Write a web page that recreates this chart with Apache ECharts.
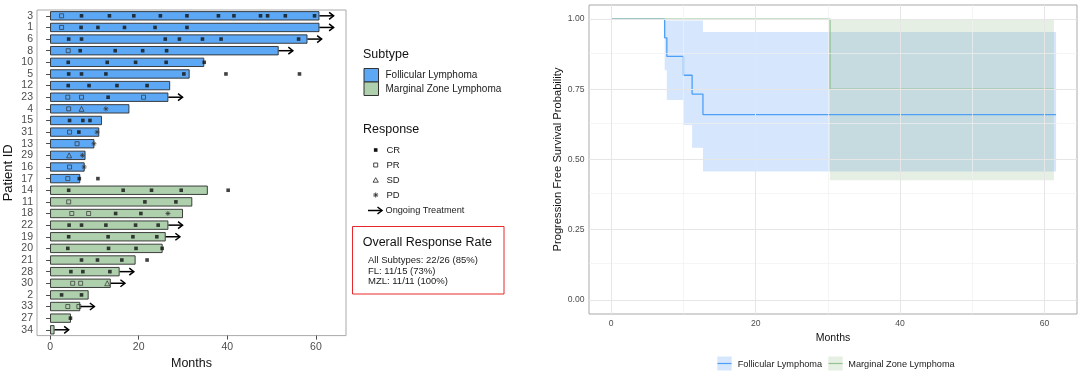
<!DOCTYPE html>
<html><head><meta charset="utf-8">
<script src="https://cdn.jsdelivr.net/npm/echarts@6/dist/echarts.min.js"></script>
<style>html,body{margin:0;padding:0;background:#fff}#c{width:1080px;height:383px}</style>
</head><body><div id="c"></div>
<script>
// ---------- Swimmer plot data ----------
const patients = ['3','1','6','8','10','5','12','23','4','15','31','13','29','16','17',
                  '14','11','18','22','19','20','21','28','30','2','33','27','34'];
const subtypes = ['FL','FL','FL','FL','FL','FL','FL','FL','FL','FL','FL','FL','FL','FL','FL',
                  'MZL','MZL','MZL','MZL','MZL','MZL','MZL','MZL','MZL','MZL','MZL','MZL','MZL'];
const durations = [60.8,60.8,58.1,51.6,34.8,31.5,27.1,26.7,17.9,11.7,11.1,10.0,8.0,7.8,6.8,
                   35.6,32.1,30.0,26.7,26.1,25.4,19.3,15.7,13.7,8.7,6.8,4.7,1.0];
const ongoing = ['3','1','6','8','23','22','19','28','30','33','34'];
const arrowMonths = 3.2;
const crTimes = {
  '3':[7.1,13.4,18.9,24.9,30.9,38.0,41.5,47.5,49.1,53.1,59.7],
  '1':[7.0,10.8,16.8,23.7,30.9],
  '6':[4.2,7.1,26.0,29.2,34.4,38.6,56.1],
  '8':[6.8,14.7,20.9,26.3],
  '10':[4.1,12.9,19.3,26.2,34.8],
  '5':[4.2,7.1,12.6,30.2,39.7,56.3],
  '12':[4.1,8.8,15.1,21.9],
  '23':[13.1],
  '15':[4.4,7.4,9.0],
  '31':[6.5],
  '17':[6.6,10.8],
  '14':[4.2,16.5,22.9,29.6,40.2],
  '11':[21.4,28.4],
  '18':[14.8,20.5],
  '22':[4.3,7.1,12.6,19.3,24.4],
  '19':[4.2,13.1,18.7,24.1],
  '20':[4.0,13.2,19.4,25.3],
  '21':[7.1,10.7,16.2,21.9],
  '28':[4.7,7.4,13.5],
  '2':[2.6,7.1],
  '27':[4.6]
};
const prTimes = {
  '3':[2.6],'1':[2.6],'8':[4.1],'23':[4.0,7.1,21.1],'4':[4.2],'31':[4.4],'13':[6.1],
  '16':[4.4],'17':[4.0],'11':[4.2],'18':[4.9,8.7],'30':[5.1,6.9],'33':[4.0,6.5]
};
const sdTimes = {'4':[7.1],'29':[4.3],'30':[12.9]};
const pdTimes = {'4':[12.6],'31':[10.6],'13':[9.9],'29':[7.3],'16':[7.7],'18':[26.6]};
const swimTicks = [0,20,40,60];

// ---------- Kaplan-Meier data ----------
const kmTicksX = [0,20,40,60];
const kmMinorX = [10,30,50];
const kmTicksY = [0,0.25,0.5,0.75,1];
const kmMinorY = [0.125,0.375,0.625,0.875];
const flTimes = [0,7.4,7.7,10.0,11.2,12.7,61.6];
const flSurv  = [1,0.933,0.867,0.8,0.733,0.66,0.66];
const flUpper = [1,0.995,0.995,0.995,0.995,0.954,0.954];
const flLower = [1,0.818,0.712,0.623,0.542,0.457,0.457];
const mzTimes = [0,30.3,61.3];
const mzSurv  = [1,0.75,0.75];
const mzUpper = [1,1,1];
const mzLower = [1,0.426,0.426];

// ---------- Text ----------
const subtypeNames = ['Follicular Lymphoma','Marginal Zone Lymphoma'];
const responseLabels = ['CR','PR','SD','PD'];
const ongoingLabel = 'Ongoing Treatment';
const orrTitle = 'Overall Response Rate';
const orrLines = ['All Subtypes: 22/26 (85%)','FL: 11/15 (73%)','MZL: 11/11 (100%)'];

// ---------- Styles ----------
const FONT = '"Liberation Sans", Arial, sans-serif';
const flBar = '#5CA8F5', mzBar = '#AED0AD';
const flLine = '#4DA0F5', mzLine = '#93C293';
const flFill = 'rgba(50,130,240,0.2)', mzFill = 'rgba(130,175,115,0.2)';
const tickCol = '#4d4d4d';
const frameCol = '#a9a9a9';

const idx = id => patients.indexOf(id);
function pts(obj){ const out=[]; Object.keys(obj).forEach(k=>obj[k].forEach(t=>out.push([t, idx(k)]))); return out; }

function ribbon(times, lower, upper, fill){
  return function(params, api){
    const p = [];
    for (let i=0;i<times.length-1;i++){ p.push(api.coord([times[i], upper[i]])); p.push(api.coord([times[i+1], upper[i]])); }
    for (let i=times.length-2;i>=0;i--){ p.push(api.coord([times[i+1], lower[i]])); p.push(api.coord([times[i], lower[i]])); }
    return {type:'polygon', shape:{points:p}, style:{fill:fill}};
  };
}

const asteriskPath = 'path://M5,0L5,10M0,5L10,5M1.5,1.5L8.5,8.5M1.5,8.5L8.5,1.5';

const gridLines = [].concat(
  kmMinorX.map(v=>({xAxis:v, lineStyle:{color:'#f1f1f1', width:0.7, type:'solid'}})),
  kmMinorY.map(v=>({yAxis:v, lineStyle:{color:'#f1f1f1', width:0.7, type:'solid'}})),
  kmTicksX.map(v=>({xAxis:v, lineStyle:{color:'#e6e6e6', width:1, type:'solid'}})),
  kmTicksY.map(v=>({yAxis:v, lineStyle:{color:'#e6e6e6', width:1, type:'solid'}}))
);

function txt(text, x, y, size, color, align){
  return {type:'text', x:x, y:y, silent:true, z:100,
    style:{text:text, font: size+'px '+FONT, fill: color||'#1a1a1a',
      textAlign: align||'left', textVerticalAlign:'middle', align: align||'left', verticalAlign:'middle'}};
}
function arrowGraphic(x1, x2, y){
  return [
    {type:'line', shape:{x1:x1,y1:y,x2:x2,y2:y}, style:{stroke:'#000', lineWidth:1.5}, z:100},
    {type:'polyline', shape:{points:[[x2-4.5,y-3.5],[x2,y],[x2-4.5,y+3.5]]}, style:{stroke:'#000', lineWidth:1.5, fill:null}, z:100}
  ];
}

const legendX = 375.7;
const graphics = [
  txt('Subtype', 363, 55, 12.5, '#111'),
  {type:'rect', shape:{x:364, y:68.5, width:14.5, height:13.5}, style:{fill:flBar, stroke:'#333', lineWidth:1}, z:100},
  {type:'rect', shape:{x:364, y:82, width:14.5, height:13.5}, style:{fill:mzBar, stroke:'#333', lineWidth:1}, z:100},
  txt(subtypeNames[0], 385.5, 75, 10),
  txt(subtypeNames[1], 385.5, 89.5, 10),
  txt('Response', 363, 129.5, 12.5, '#111'),
  {type:'rect', shape:{x:legendX-1.8, y:150-1.8, width:3.6, height:3.6}, style:{fill:'#111'}, z:100},
  {type:'rect', shape:{x:legendX-2, y:165-2, width:4, height:4}, style:{fill:null, stroke:'#333', lineWidth:0.9}, z:100},
  {type:'polygon', shape:{points:[[legendX,177.7],[legendX-2.6,182.2],[legendX+2.6,182.2]]}, style:{fill:null, stroke:'#333', lineWidth:0.9}, z:100},
  {type:'line', shape:{x1:legendX,y1:192.5,x2:legendX,y2:197.5}, style:{stroke:'#333', lineWidth:0.9}, z:100},
  {type:'line', shape:{x1:legendX-2.5,y1:195,x2:legendX+2.5,y2:195}, style:{stroke:'#333', lineWidth:0.9}, z:100},
  {type:'line', shape:{x1:legendX-1.8,y1:193.2,x2:legendX+1.8,y2:196.8}, style:{stroke:'#333', lineWidth:0.9}, z:100},
  {type:'line', shape:{x1:legendX-1.8,y1:196.8,x2:legendX+1.8,y2:193.2}, style:{stroke:'#333', lineWidth:0.9}, z:100},
  txt(responseLabels[0], 386.5, 150, 9.5),
  txt(responseLabels[1], 386.5, 165, 9.5),
  txt(responseLabels[2], 386.5, 180, 9.5),
  txt(responseLabels[3], 386.5, 195, 9.5),
  ...arrowGraphic(368, 382, 210.5),
  txt(ongoingLabel, 385.5, 210.5, 9.2),
  {type:'rect', shape:{x:352.5, y:226.5, width:151.5, height:67.5}, style:{fill:null, stroke:'#e8292b', lineWidth:1}, z:100},
  txt(orrTitle, 362.7, 242.7, 12.5, '#111'),
  txt(orrLines[0], 368, 260, 9.5),
  txt(orrLines[1], 368, 271, 9.5),
  txt(orrLines[2], 368, 281.7, 9.5),
  // KM legend
  {type:'rect', shape:{x:717.3, y:356.5, width:14.4, height:14}, style:{fill:flFill}, z:100},
  {type:'line', shape:{x1:717.5,y1:363.5,x2:731.5,y2:363.5}, style:{stroke:flLine, lineWidth:1.2}, z:101},
  txt(subtypeNames[0], 737.7, 364, 9.2),
  {type:'rect', shape:{x:828.3, y:356.5, width:14.4, height:14}, style:{fill:mzFill}, z:100},
  {type:'line', shape:{x1:828.5,y1:363.5,x2:842.5,y2:363.5}, style:{stroke:mzLine, lineWidth:1.2}, z:101},
  txt(subtypeNames[1], 848.3, 364, 9.2)
];

const chart = echarts.init(document.getElementById('c'), null, {renderer:'canvas'});
chart.setOption({
  animation:false,
  backgroundColor:'#fff',
  textStyle:{fontFamily:FONT},
  grid:[
    {left:37, top:10, width:309, height:325.6, show:true, borderColor:frameCol, borderWidth:1, backgroundColor:'transparent'},
    {left:589, top:5, width:488, height:309, show:true, borderColor:frameCol, borderWidth:1, backgroundColor:'transparent'}
  ],
  xAxis:[
    {gridIndex:0, type:'value', min:-2.95, max:66.8,
     axisLine:{show:false}, splitLine:{show:false},
     axisTick:{show:true, customValues:swimTicks, length:4, lineStyle:{color:tickCol}},
     axisLabel:{customValues:swimTicks, color:tickCol, fontSize:10.5, margin:6, fontFamily:FONT},
     name:'Months', nameLocation:'middle', nameGap:16,
     nameTextStyle:{fontSize:12.5, color:'#111', fontFamily:FONT}},
    {gridIndex:1, type:'value', min:-3.08, max:64.5,
     axisLine:{show:false}, splitLine:{show:false},
     axisTick:{show:true, customValues:kmTicksX, length:3, lineStyle:{color:tickCol}},
     axisLabel:{customValues:kmTicksX, color:tickCol, fontSize:8.6, margin:5, fontFamily:FONT},
     name:'Months', nameLocation:'middle', nameGap:14,
     nameTextStyle:{fontSize:10.5, color:'#111', fontFamily:FONT}}
  ],
  yAxis:[
    {gridIndex:0, type:'category', data:patients, inverse:true,
     axisLine:{show:false}, splitLine:{show:false},
     axisTick:{show:true, length:4, alignWithLabel:true, interval:0, lineStyle:{color:tickCol}},
     axisLabel:{interval:0, color:tickCol, fontSize:10.5, margin:4, fontFamily:FONT},
     name:'Patient ID', nameLocation:'middle', nameGap:22, nameRotate:90,
     nameTextStyle:{fontSize:13, color:'#111', fontFamily:FONT}},
    {gridIndex:1, type:'value', min:-0.05, max:1.05,
     axisLine:{show:false}, splitLine:{show:false},
     axisTick:{show:true, customValues:kmTicksY, length:3, lineStyle:{color:tickCol}},
     axisLabel:{customValues:kmTicksY, color:tickCol, fontSize:8.6, margin:4.5, fontFamily:FONT,
       formatter: v => Number(v).toFixed(2)},
     name:'Progression Free Survival Probability', nameLocation:'middle', nameGap:22, nameRotate:90,
     nameTextStyle:{fontSize:11.2, color:'#111', fontFamily:FONT}}
  ],
  series:[
    {type:'bar', xAxisIndex:0, yAxisIndex:0, barWidth:'80%', z:2,
     data: durations.map((d,i)=>({value:d, itemStyle:{color: subtypes[i]==='FL'?flBar:mzBar}})),
     itemStyle:{borderColor:'#2b2b2b', borderWidth:0.9}},
    {type:'custom', xAxisIndex:0, yAxisIndex:0, z:3,
     encode:{x:[0,1], y:2},
     data: ongoing.map(id=>[durations[idx(id)], durations[idx(id)]+arrowMonths, idx(id)]),
     renderItem:function(params, api){
       const s = api.coord([api.value(0), api.value(2)]);
       const e = api.coord([api.value(1), api.value(2)]);
       return {type:'group', children:[
         {type:'line', shape:{x1:s[0],y1:s[1],x2:e[0],y2:e[1]}, style:{stroke:'#000', lineWidth:1.5}},
         {type:'polyline', shape:{points:[[e[0]-4.5,e[1]-3.5],[e[0],e[1]],[e[0]-4.5,e[1]+3.5]]}, style:{stroke:'#000', lineWidth:1.5, fill:null}}
       ]};
     }},
    {type:'scatter', name:'CR', xAxisIndex:0, yAxisIndex:0, z:4, data:pts(crTimes),
     symbol:'rect', symbolSize:3.6, itemStyle:{color:'#111'}},
    {type:'scatter', name:'PR', xAxisIndex:0, yAxisIndex:0, z:4, data:pts(prTimes),
     symbol:'rect', symbolSize:4, itemStyle:{color:'rgba(0,0,0,0)', borderColor:'#333', borderWidth:0.9}},
    {type:'scatter', name:'SD', xAxisIndex:0, yAxisIndex:0, z:4, data:pts(sdTimes),
     symbol:'triangle', symbolSize:5, itemStyle:{color:'rgba(0,0,0,0)', borderColor:'#333', borderWidth:0.9}},
    {type:'scatter', name:'PD', xAxisIndex:0, yAxisIndex:0, z:4, data:pts(pdTimes),
     symbol:asteriskPath, symbolSize:5, itemStyle:{color:'rgba(0,0,0,0)', borderColor:'#333', borderWidth:0.9}},
    // KM gridlines
    {type:'line', xAxisIndex:1, yAxisIndex:1, z:1, data:[[0,1]], symbol:'none', lineStyle:{opacity:0}, silent:true,
     markLine:{silent:true, symbol:['none','none'], label:{show:false}, animation:false, data:gridLines}},
    {type:'custom', xAxisIndex:1, yAxisIndex:1, z:2, data:[[0,1]], renderItem: ribbon(flTimes, flLower, flUpper, flFill), silent:true},
    {type:'custom', xAxisIndex:1, yAxisIndex:1, z:2, data:[[30,1]], renderItem: ribbon(mzTimes, mzLower, mzUpper, mzFill), silent:true},
    {type:'line', name:subtypeNames[0], xAxisIndex:1, yAxisIndex:1, z:3, step:'end', symbol:'none',
     data: flTimes.map((t,i)=>[t, flSurv[i]]), lineStyle:{color:flLine, width:1.3}},
    {type:'line', name:subtypeNames[1], xAxisIndex:1, yAxisIndex:1, z:4, step:'end', symbol:'none',
     data: mzTimes.map((t,i)=>[t, mzSurv[i]]), lineStyle:{color:mzLine, width:1.3}}
  ],
  graphic: graphics
});
</script></body></html>
